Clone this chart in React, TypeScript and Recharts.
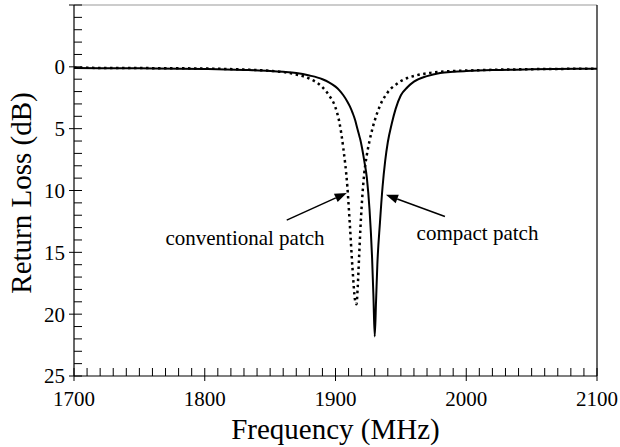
import { LineChart, Line, XAxis, YAxis, ReferenceLine, ReferenceDot } from 'recharts'

// frequency grid (MHz), denser around the resonances
const freq = [
	1700, 1750, 1800, 1830, 1850, 1860, 1870, 1880, 1890, 1895, 1900, 1903, 1906, 1909, 1911, 1913, 1915,
	1916, 1917, 1918, 1919, 1920, 1922, 1924, 1926, 1928, 1929, 1930, 1931, 1932, 1934, 1936, 1938, 1940,
	1943, 1946, 1950, 1955, 1960, 1970, 1980, 1990, 2000, 2020, 2050, 2100
]

// return loss (dB)
const compact = [
	0.1, 0.12, 0.18, 0.25, 0.33, 0.4, 0.5, 0.7, 1.0, 1.25, 1.6, 1.9, 2.3, 2.8, 3.2, 3.7, 4.3, 4.7, 5.1, 5.5,
	5.9, 6.4, 7.6, 9.0, 11.5, 15.5, 18.5, 21.8, 19.0, 16.0, 12.6, 9.7, 7.6, 6.1, 4.6, 3.4, 2.3, 1.65, 1.2,
	0.75, 0.5, 0.4, 0.34, 0.26, 0.2, 0.15
]
const conventional = [
	0.08, 0.1, 0.14, 0.22, 0.32, 0.42, 0.62, 0.95, 1.65, 2.3, 3.3, 4.5, 6.6, 9.6, 12.8, 16.3, 18.9, 19.2,
	17.8, 15.5, 13.2, 11.3, 8.6, 7.1, 6.0, 5.1, 4.7, 4.35, 4.0, 3.7, 3.15, 2.7, 2.35, 2.05, 1.7, 1.45, 1.15,
	0.9, 0.74, 0.52, 0.4, 0.34, 0.3, 0.24, 0.19, 0.15
]

const xLabels = [1700, 1800, 1900, 2000, 2100]
const yLabels = [0, 5, 10, 15, 20, 25]
const xMinorStep = 10
const yMinorStep = 1

const xTicks: number[] = []
for (let v = 1700; v <= 2100; v += xMinorStep) xTicks.push(v)
const yTicks: number[] = []
for (let v = -5; v <= 25; v += yMinorStep) yTicks.push(v)

const data = freq.map((f, i) => ({ f, compact: compact[i], conventional: conventional[i] }))

const serif = { fontFamily: "'Liberation Serif', 'DejaVu Serif', serif" }

const XTick = ({ x, y, payload }: any) => {
	const v = payload.value
	const major = v % 100 === 0
	return (
		<g>
			<line x1={x} x2={x} y1={y - 8} y2={y + (major ? 5 : 0)} stroke="#000" strokeWidth={1} />
			{xLabels.includes(v) && (
				<text x={x} y={y + 30} textAnchor="middle" fontSize={21} style={serif} fill="#000">
					{v}
				</text>
			)}
		</g>
	)
}

const YTick = ({ x, y, payload }: any) => {
	const v = payload.value
	const major = v % 5 === 0
	return (
		<g>
			<line x1={x - (major ? 5 : 0)} x2={x + 8} y1={y} y2={y} stroke="#000" strokeWidth={1} />
			{yLabels.includes(v) && (
				<text x={x - 9} y={y} dy="0.35em" textAnchor="end" fontSize={21} style={serif} fill="#000">
					{v}
				</text>
			)}
		</g>
	)
}

const Arrow = ({ x1, y1, x2, y2 }: any) => {
	const dx = x2 - x1
	const dy = y2 - y1
	const len = Math.sqrt(dx * dx + dy * dy)
	const ux = dx / len
	const uy = dy / len
	const hl = 12
	const hw = 4.5
	const bx = x2 - ux * hl
	const by = y2 - uy * hl
	return (
		<g>
			<line x1={x1} y1={y1} x2={bx} y2={by} stroke="#000" strokeWidth={1.5} />
			<polygon
				points={`${x2},${y2} ${bx - uy * hw},${by + ux * hw} ${bx + uy * hw},${by - ux * hw}`}
				fill="#000"
			/>
		</g>
	)
}

// annotation text, drawn at the reference dot
const Note = (text: string) => ({
	content: ({ viewBox }: any) => {
		const cx = viewBox.x + (viewBox.width || 0) / 2
		const cy = viewBox.y + (viewBox.height || 0) / 2
		return (
			<text x={cx} y={cy} dy="0.35em" textAnchor="middle" fontSize={21} style={serif} fill="#000">
				{text}
			</text>
		)
	}
})

export default function App() {
	return (
		<div style={{ position: 'absolute', left: 0, top: 0, background: '#fff' }}>
			<LineChart width={620} height={447} data={data} margin={{ top: 5, right: 23, left: 0, bottom: 0 }}>
				<XAxis
					type="number"
					dataKey="f"
					domain={[1700, 2100]}
					ticks={xTicks}
					interval={0}
					height={71}
					tickSize={0}
					tickMargin={0}
					tickLine={false}
					tick={<XTick />}
					axisLine={{ stroke: '#000', strokeWidth: 1.2 }}
					label={{
						content: () => (
							<text x={335.5} y={439} textAnchor="middle" fontSize={29} style={serif} fill="#000">
								Frequency (MHz)
							</text>
						)
					}}
				/>
				<YAxis
					type="number"
					domain={[-5, 25]}
					reversed
					ticks={yTicks}
					interval={0}
					width={74}
					tickSize={0}
					tickMargin={0}
					tickLine={false}
					tick={<YTick />}
					axisLine={{ stroke: '#000', strokeWidth: 1.2 }}
					label={{
						content: () => (
							<text
								x={21}
								y={193}
								dy="0.35em"
								transform="rotate(-90 21 193)"
								textAnchor="middle"
								fontSize={29}
								style={serif}
								fill="#000"
							>
								Return Loss (dB)
							</text>
						)
					}}
				/>
				<ReferenceLine y={-5} stroke="#999" strokeWidth={1} />
				<ReferenceLine x={2100} stroke="#000" strokeWidth={1.2} />
				<Line
					type="monotone"
					dataKey="conventional"
					stroke="#000"
					strokeWidth={2.5}
					strokeDasharray="2.5 3.5"
					dot={false}
					isAnimationActive={false}
				/>
				<Line
					type="monotone"
					dataKey="compact"
					stroke="#000"
					strokeWidth={2}
					dot={false}
					isAnimationActive={false}
				/>
				<ReferenceLine
					segment={[
						{ x: 1862.7, y: 12.4 },
						{ x: 1908.6, y: 10.2 }
					]}
					shape={<Arrow />}
				/>
				<ReferenceLine
					segment={[
						{ x: 1983.7, y: 12.1 },
						{ x: 1938.6, y: 10.35 }
					]}
					shape={<Arrow />}
				/>
				<ReferenceDot x={1830.8} y={13.8} r={0} fill="none" stroke="none" label={Note('conventional patch')} />
				<ReferenceDot x={2008.6} y={13.4} r={0} fill="none" stroke="none" label={Note('compact patch')} />
			</LineChart>
		</div>
	)
}
